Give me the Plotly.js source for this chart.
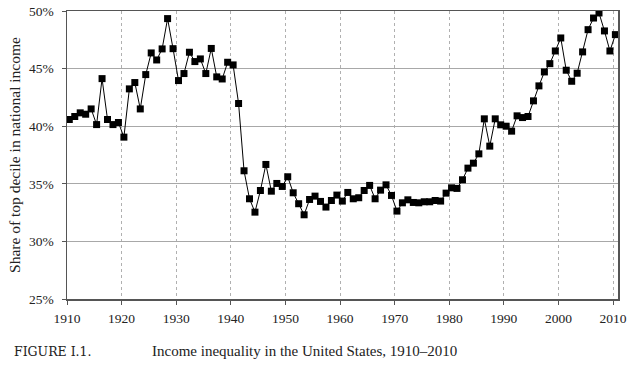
<!DOCTYPE html>
<html>
<head>
<meta charset="utf-8">
<script src="https://cdn.plot.ly/plotly-3.0.1.min.js"></script>
<style>html,body{margin:0;padding:0;background:#fff;}</style>
</head>
<body>
<div id="chart" style="width:630px;height:373px;"></div>
<script>
const years = [];
for (let y = 1910; y <= 2010; y++) years.push(y);

const topDecileShare = [
  40.58, 40.84, 41.16, 41.04, 41.50, 40.14, 44.13, 40.58, 40.14, 40.32,
  39.05, 43.24, 43.79, 41.50, 44.48, 46.36, 45.75, 46.71, 49.34, 46.73,
  43.96, 44.57, 46.42, 45.61, 45.84, 44.57, 46.75, 44.28, 44.10, 45.55,
  45.32, 41.97, 36.13, 33.70, 32.54, 34.42, 36.68, 34.36, 35.03, 34.77,
  35.61, 34.22, 33.27, 32.31, 33.64, 33.93, 33.47, 32.98, 33.55, 34.02,
  33.50, 34.25, 33.70, 33.79, 34.42, 34.86, 33.70, 34.45, 34.91, 33.99,
  32.63, 33.35, 33.61, 33.38, 33.35, 33.44, 33.44, 33.55, 33.50, 34.19,
  34.65, 34.60, 35.35, 36.36, 36.79, 37.60, 40.64, 38.27, 40.64, 40.12,
  40.00, 39.57, 40.90, 40.75, 40.84, 42.20, 43.50, 44.71, 45.43, 46.53,
  47.66, 44.86, 43.90, 44.60, 46.45, 48.38, 49.39, 49.83, 48.27, 46.53,
  47.95
];

const decadeLabels = ["1910","1920","1930","1940","1950","1960","1970","1980","1990","2000","2010"];
const yTicks = [25, 30, 35, 40, 45, 50];
const yTickLabels = ["25%", "30%", "35%", "40%", "45%", "50%"];

const FONT = "Liberation Serif, Times New Roman, serif";
const decadeTickVals = decadeLabels.map(s => Number(s) - 0.42);

const trace = {
  x: years,
  y: topDecileShare,
  type: "scatter",
  mode: "lines+markers",
  line: {color: "#000", width: 1},
  marker: {symbol: "square", size: 7, color: "#000"},
  hoverinfo: "x+y"
};

const layout = {
  width: 630,
  height: 373,
  margin: {l: 67, r: 12, t: 11, b: 73.5},
  paper_bgcolor: "#fff",
  plot_bgcolor: "#fff",
  showlegend: false,
  font: {family: FONT, color: "#222", size: 13},
  xaxis: {
    range: [1909.58, 2010.48],
    tickmode: "array",
    tickvals: decadeTickVals,
    ticktext: decadeLabels,
    showgrid: true,
    gridcolor: "#b0b0b0",
    griddash: "dot",
    gridwidth: 1,
    zeroline: false,
    showline: true,
    linecolor: "#555",
    linewidth: 1.5,
    mirror: true,
    ticks: "outside",
    ticklen: 4,
    tickcolor: "#555",
    ticklabelstandoff: 2,
    tickfont: {family: FONT, size: 13.5, color: "#222"},
    fixedrange: true
  },
  yaxis: {
    range: [25, 50],
    tickmode: "array",
    tickvals: yTicks,
    ticktext: yTickLabels,
    showgrid: true,
    gridcolor: "#a8a8a8",
    gridwidth: 1,
    zeroline: false,
    showline: true,
    linecolor: "#555",
    linewidth: 1.5,
    mirror: true,
    ticks: "outside",
    ticklen: 4,
    tickcolor: "#555",
    ticklabelstandoff: 5,
    tickfont: {family: FONT, size: 13.5, color: "#222"},
    title: {text: "Share of top decile in national income", font: {family: FONT, size: 15.5, color: "#222"}, standoff: 4},
    fixedrange: true
  },
  annotations: [
    {
      xref: "paper", yref: "paper",
      x: -0.0998, y: -0.182,
      xanchor: "left", yanchor: "middle",
      showarrow: false,
      text: "FIGURE I.1.",
      font: {family: "DejaVu Serif", size: 12.5, color: "#222"}
    },
    {
      xref: "paper", yref: "paper",
      x: 0.1506, y: -0.182,
      xanchor: "left", yanchor: "middle",
      showarrow: false,
      text: "Income inequality in the United States, 1910–2010",
      font: {family: FONT, size: 15, color: "#222"}
    }
  ]
};

Plotly.newPlot("chart", [trace], layout, {displayModeBar: false, staticPlot: true});
</script>
</body>
</html>
